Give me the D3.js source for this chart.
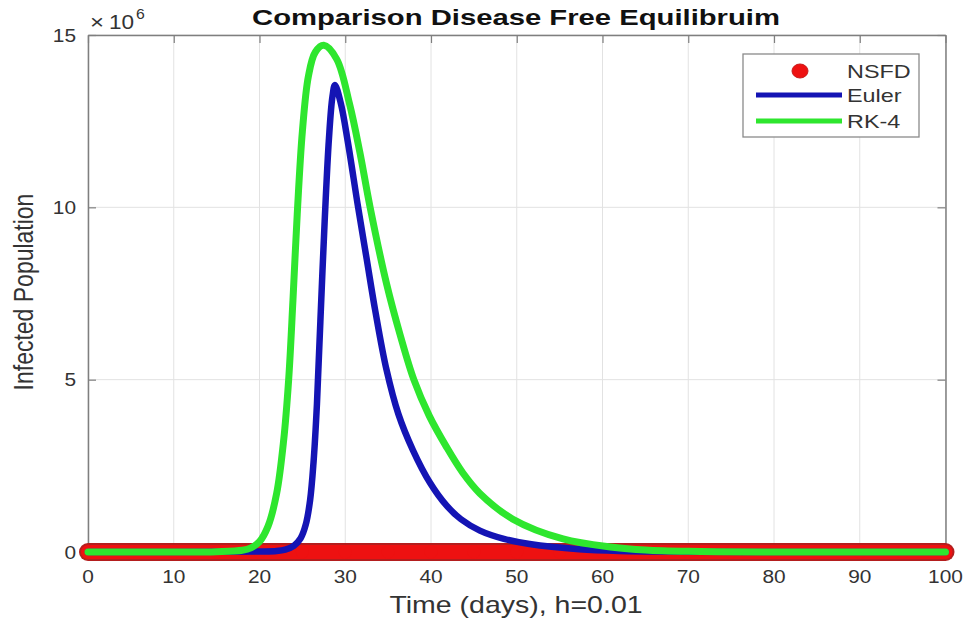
<!DOCTYPE html>
<html>
<head>
<meta charset="utf-8">
<script src="https://cdn.jsdelivr.net/npm/d3@7"></script>
<style>
  html, body { margin: 0; padding: 0; background: #fff; }
  svg { display: block; }
  text { font-family: "Liberation Sans", Arial, sans-serif; fill: #333; }
</style>
</head>
<body>
<svg id="chart" width="970" height="621"></svg>
<script>
// ---------------- data ----------------
const titleText = "Comparison Disease Free Equilibruim";
const xLabelText = "Time (days), h=0.01";
const yLabelText = "Infected Population";

const xTicks = [0, 10, 20, 30, 40, 50, 60, 70, 80, 90, 100];
const yTicks = [0, 5, 10, 15];           // in units of 10^6
const yTickLabels = ["0", "5", "10", "15"];

const seriesNames = ["NSFD", "Euler", "RK-4"];
const seriesColors = ["#ee1111", "#1414b4", "#2ee62e"];

// NSFD (stays at the disease free equilibrium)
const nsfdTime = [0, 5, 10, 15, 20, 25, 30, 35, 40, 45, 50, 55, 60, 65, 70, 75, 80, 85, 90, 95, 100];
const nsfdValue = [0, 0, 0, 0, 0, 0, 0, 0, 0, 0, 0, 0, 0, 0, 0, 0, 0, 0, 0, 0, 0];

// Euler (values in millions)
const eulerTime = [0, 10, 16, 20, 22, 23, 24, 24.8, 25.4, 25.9, 26.3, 26.7, 27.1, 27.6, 28.1, 28.5, 28.8,
                   29.5, 30.3, 31.5, 32.5, 33.5, 34.8, 36.2, 37.9, 39.9, 41.8, 43.5, 45.7, 48.5, 51.5,
                   57.3, 62, 70, 80, 90, 100];
const eulerValue = [0, 0, 0.005, 0.015, 0.03, 0.07, 0.18, 0.4, 0.8, 1.5, 2.6, 4.3, 6.7, 9.6, 12.0, 13.2, 13.55,
                    13.0, 11.9, 10.0, 8.5, 7.0, 5.3, 4.0, 2.95, 2.0, 1.35, 0.95, 0.62, 0.38, 0.23,
                    0.08, 0.03, 0.01, 0, 0, 0];

// RK-4 (values in millions)
const rkTime = [0, 10, 15, 18, 19, 20, 21, 22, 22.8, 23.4, 23.9, 24.4, 25.0, 25.7, 26.5, 27.5,
                29.0, 30.5, 31.7, 32.9, 34.8, 36.4, 38.0, 39.8, 41.8, 43.7, 45.7, 49.5, 55.4, 61.2,
                65, 70, 80, 90, 100];
const rkValue = [0, 0, 0.01, 0.05, 0.12, 0.3, 0.75, 1.7, 3.2, 5.0, 7.3, 9.8, 12.2, 13.8, 14.5, 14.7,
                 14.3, 13.0, 11.6, 10.0, 7.8, 6.3, 5.0, 3.95, 3.05, 2.3, 1.7, 0.96, 0.38, 0.14,
                 0.06, 0.02, 0, 0, 0];

// ---------------- layout ----------------
const svg = d3.select("#chart");
const W = 970, H = 621;
const plot = { left: 88, right: 945.5, top: 35, bottom: 552 };

svg.append("rect").attr("width", W).attr("height", H).attr("fill", "#fff");

const x = d3.scaleLinear().domain([0, 100]).range([plot.left, plot.right]);
const y = d3.scaleLinear().domain([0, 15]).range([plot.bottom, plot.top]);

// helper for horizontally stretched text
function stext(g, str, px, py, size, sx, anchor, weight) {
  return g.append("text")
    .attr("transform", `translate(${px},${py}) scale(${sx},1)`)
    .attr("text-anchor", anchor || "start")
    .attr("font-size", size)
    .attr("font-weight", weight || "normal")
    .text(str);
}

// ---------------- grid ----------------
const grid = svg.append("g");
grid.selectAll("line.gx").data(xTicks).enter().append("line")
  .attr("x1", d => x(d)).attr("x2", d => x(d))
  .attr("y1", plot.top).attr("y2", plot.bottom)
  .attr("stroke", "#e2e2e2").attr("stroke-width", 1);
grid.selectAll("line.gy").data(yTicks).enter().append("line")
  .attr("y1", d => y(d)).attr("y2", d => y(d))
  .attr("x1", plot.left).attr("x2", plot.right)
  .attr("stroke", "#e2e2e2").attr("stroke-width", 1);

// ---------------- axes (ticks inward, box) ----------------
const axisColor = "#7f7f7f";
const tickLen = 8;
const axG = svg.append("g");
const xAxisB = d3.axisBottom(x).tickValues(xTicks).tickSizeInner(-tickLen).tickSizeOuter(0).tickFormat("");
const xAxisT = d3.axisTop(x).tickValues(xTicks).tickSizeInner(-tickLen).tickSizeOuter(0).tickFormat("");
const yAxisL = d3.axisLeft(y).tickValues(yTicks).tickSizeInner(-tickLen).tickSizeOuter(0).tickFormat("");
const yAxisR = d3.axisRight(y).tickValues(yTicks).tickSizeInner(-tickLen).tickSizeOuter(0).tickFormat("");
axG.append("g").attr("transform", `translate(0,${plot.bottom})`).call(xAxisB);
axG.append("g").attr("transform", `translate(0,${plot.top})`).call(xAxisT);
axG.append("g").attr("transform", `translate(${plot.left},0)`).call(yAxisL);
axG.append("g").attr("transform", `translate(${plot.right},0)`).call(yAxisR);
axG.selectAll("path.domain").attr("stroke", axisColor).attr("stroke-width", 1.5);
axG.selectAll(".tick line").attr("stroke", axisColor).attr("stroke-width", 1.2);

// tick labels
const labG = svg.append("g");
xTicks.forEach(t => stext(labG, String(t), x(t), 583, 18.5, 1.13, "middle"));
yTicks.forEach((t, i) => stext(labG, yTickLabels[i], 76, y(t) + 6.5, 18.5, 1.13, "end"));

// exponent label
stext(labG, "\u00d7", 90, 29, 20, 1.2, "start");
stext(labG, "10", 109, 29, 20, 1.13, "start");
stext(labG, "6", 136, 19, 14, 1.13, "start");

// ---------------- series ----------------
const line = d3.line()
  .x(d => x(d[0]))
  .y(d => y(d[1]))
  .curve(d3.curveCatmullRom.alpha(0.5));

const nsfdData = nsfdTime.map((t, i) => [t, nsfdValue[i]]);
const eulerData = eulerTime.map((t, i) => [t, eulerValue[i]]);
const rkData = rkTime.map((t, i) => [t, rkValue[i]]);

const series = svg.append("g");
// NSFD drawn as a dense band of markers
series.append("path").datum(nsfdData).attr("d", line)
  .attr("fill", "none").attr("stroke", "#b41e1e").attr("stroke-width", 18)
  .attr("stroke-linecap", "round");
series.append("path").datum(nsfdData).attr("d", line)
  .attr("fill", "none").attr("stroke", seriesColors[0]).attr("stroke-width", 14)
  .attr("stroke-linecap", "round");
series.selectAll("circle.nsfd").data(nsfdData).enter().append("circle")
  .attr("cx", d => x(d[0])).attr("cy", d => y(d[1])).attr("r", 6.5)
  .attr("fill", seriesColors[0]);

series.append("path").datum(eulerData).attr("d", line)
  .attr("fill", "none").attr("stroke", seriesColors[1]).attr("stroke-width", 6.5)
  .attr("stroke-linejoin", "round").attr("stroke-linecap", "round");
series.append("path").datum(rkData).attr("d", line)
  .attr("fill", "none").attr("stroke", seriesColors[2]).attr("stroke-width", 7)
  .attr("stroke-linejoin", "round").attr("stroke-linecap", "round");

// ---------------- legend ----------------
const leg = svg.append("g");
leg.append("rect").attr("x", 743).attr("y", 54).attr("width", 176).attr("height", 83)
  .attr("fill", "#fff").attr("stroke", "#8a8a8a").attr("stroke-width", 1.3);
const legRowY = [71, 95, 121];
seriesNames.forEach((name, i) => {
  const yy = legRowY[i];
  if (i === 0) {
    leg.append("ellipse").attr("cx", 800).attr("cy", yy).attr("rx", 8).attr("ry", 7)
      .attr("fill", seriesColors[0]).attr("stroke", "#c81a1a").attr("stroke-width", 1);
  } else {
    leg.append("line").attr("x1", 756).attr("x2", 842).attr("y1", yy).attr("y2", yy)
      .attr("stroke", seriesColors[i]).attr("stroke-width", 5);
  }
  stext(leg, name, 847, yy + 6.5, 18, 1.3, "start");
});

// ---------------- titles ----------------
stext(svg, titleText, 516, 25, 22.5, 1.3, "middle", "bold").style("fill", "#111");
stext(svg, xLabelText, 516, 613, 23, 1.24, "middle");
svg.append("text")
  .attr("transform", "translate(33,292) scale(1.24,1) rotate(-90)")
  .attr("text-anchor", "middle")
  .attr("font-size", 23)
  .text(yLabelText);
</script>
</body>
</html>
